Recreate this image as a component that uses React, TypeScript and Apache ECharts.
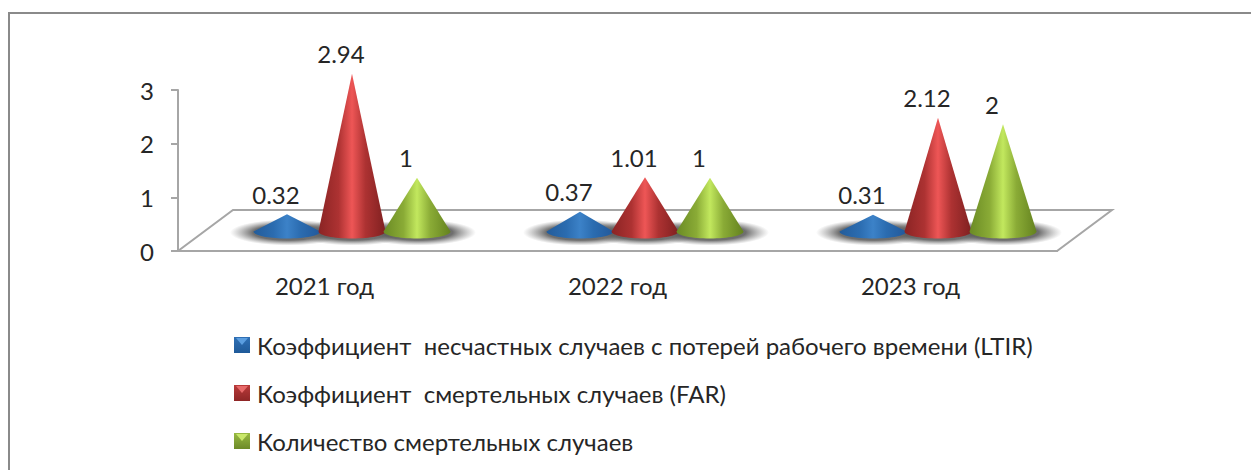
import React, { useEffect, useRef } from "react";
import * as echarts from "echarts";

const categories = ["2021 год", "2022 год", "2023 год"];
const seriesNames = [
  "Коэффициент  несчастных случаев с потерей рабочего времени (LTIR)",
  "Коэффициент  смертельных случаев (FAR)",
  "Количество смертельных случаев",
];
const ltir = [0.32, 0.37, 0.31];
const far = [2.94, 1.01, 2.12];
const fatalities = [1, 1, 2];

const FONT = 'Lato, "Open Sans", "Noto Sans", sans-serif';
const TEXT = "#262626";
const FONT_SIZE = 24;

// Floor depth of the pseudo-3D plot, in pixels
const DEPTH_X = 55;
const DEPTH_Y = 41;
// Spacing and footprint of the cones inside one category
const CONE_STEP = 65;
const BASE_RX = 33.5;
const BASE_RY = 7;
const FLOOR_LIFT = 19.5;
// Legend swatches
const LEGEND_LEFT = 234;
const LEGEND_TOP = 333;
const LEGEND_STEP = 48;
const SWATCH = 16;

echarts.graphic.registerShape(
  "cone",
  echarts.graphic.extendShape({
    shape: { cx: 0, cy: 0, rx: 0, ry: 0, top: 0 },
    buildPath(ctx: any, s: any) {
      const k = 0.5523;
      ctx.moveTo(s.cx, s.top);
      ctx.lineTo(s.cx + s.rx, s.cy);
      ctx.bezierCurveTo(
        s.cx + s.rx,
        s.cy + s.ry * k,
        s.cx + s.rx * k,
        s.cy + s.ry,
        s.cx,
        s.cy + s.ry
      );
      ctx.bezierCurveTo(
        s.cx - s.rx * k,
        s.cy + s.ry,
        s.cx - s.rx,
        s.cy + s.ry * k,
        s.cx - s.rx,
        s.cy
      );
      ctx.closePath();
    },
  })
);

const hGrad = (edge: string, mid: string, light: string, edge2: string) =>
  new echarts.graphic.LinearGradient(0, 0, 1, 0, [
    { offset: 0, color: edge },
    { offset: 0.3, color: mid },
    { offset: 0.5, color: light },
    { offset: 0.7, color: mid },
    { offset: 1, color: edge2 },
  ]);

const palettes = [
  {
    fill: () => hGrad("#235c9a", "#2b6cb0", "#3c82c8", "#22589a"),
    legend: ["#2f70b5", "#1f5a99"],
    bevel: "#5b9ee0",
  },
  {
    fill: () => hGrad("#8a2424", "#ad3232", "#ee5656", "#7f2020"),
    legend: ["#b93a3a", "#8e2626"],
    bevel: "#e86a6a",
  },
  {
    fill: () => hGrad("#6a8a24", "#8aab36", "#c2e85e", "#64821f"),
    legend: ["#98ba42", "#6d8a28"],
    bevel: "#c9e86a",
  },
];

const apexOf = (api: any, index: number) => {
  const top = api.coord([api.value(0), api.value(1)]);
  const floor = api.coord([api.value(0), 0]);
  return {
    cx: top[0] + DEPTH_X / 2 + (index - 1) * CONE_STEP,
    cy: floor[1] - FLOOR_LIFT,
    apex: top[1] - FLOOR_LIFT,
  };
};

// Soft contact shadow on the floor, kept in its own layer under every cone
const shadowSeries = (values: number[], index: number) => ({
  type: "custom",
  z: 2,
  clip: false,
  silent: true,
  data: values.map((v, i) => [i, v]),
  encode: { x: 0, y: 1 },
  renderItem(_: any, api: any) {
    const { cx, cy } = apexOf(api, index);
    return {
      type: "ellipse",
      shape: { cx: cx + 1, cy: cy + 1, rx: 58, ry: 13 },
      style: {
        fill: new echarts.graphic.RadialGradient(0.5, 0.5, 0.5, [
          { offset: 0, color: "rgba(85,85,85,0.95)" },
          { offset: 0.6, color: "rgba(95,95,95,0.9)" },
          { offset: 1, color: "rgba(130,130,130,0)" },
        ]),
      },
    };
  },
});

const coneSeries = (name: string, values: number[], index: number) => ({
  type: "custom",
  name,
  z: 3 + index,
  clip: false,
  data: values.map((v, i) => [i, v]),
  encode: { x: 0, y: 1 },
  itemStyle: {
    color: new echarts.graphic.LinearGradient(0, 0, 0, 1, [
      { offset: 0, color: palettes[index].legend[0] },
      { offset: 1, color: palettes[index].legend[1] },
    ]),
  },
  renderItem(_: any, api: any) {
    const { cx, cy, apex } = apexOf(api, index);
    return {
      type: "group",
      children: [
        {
          type: "cone",
          shape: { cx, cy, rx: BASE_RX, ry: BASE_RY, top: apex },
          style: { fill: palettes[index].fill() },
        },
        {
          type: "text",
          style: {
            text: String(api.value(1)),
            x: cx - 11,
            y: apex - 20,
            align: "center",
            verticalAlign: "middle",
            font: `${FONT_SIZE}px ${FONT}`,
            fill: TEXT,
          },
        },
      ],
    };
  },
});

// Lighter bevel along the top of each legend swatch
const swatchBevels = palettes.map((p, i) => {
  const top = LEGEND_TOP + 4 + i * LEGEND_STEP;
  return {
    type: "polygon",
    silent: true,
    z: 20,
    shape: {
      points: [
        [LEGEND_LEFT + 2, top + 1],
        [LEGEND_LEFT + SWATCH - 2, top + 1],
        [LEGEND_LEFT + SWATCH / 2, top + 8],
      ],
    },
    style: { fill: p.bevel },
  };
});

export default function App() {
  const ref = useRef<HTMLDivElement>(null);

  useEffect(() => {
    const chart = echarts.init(ref.current!, undefined, { renderer: "svg" });
    chart.setOption({
      animation: false,
      backgroundColor: "#ffffff",
      textStyle: { fontFamily: FONT },
      grid: { left: 178, right: 194, top: 90, bottom: 219 },
      xAxis: {
        type: "category",
        data: categories,
        axisTick: { show: false },
        axisLine: { show: true, lineStyle: { color: "#a6a6a6", width: 2 } },
        axisLabel: { color: TEXT, fontSize: FONT_SIZE, margin: 22, fontFamily: FONT },
        splitLine: { show: false },
      },
      yAxis: {
        type: "value",
        min: 0,
        max: 3,
        interval: 1,
        axisLine: { show: true, lineStyle: { color: "#a6a6a6", width: 2 } },
        axisTick: { show: true, length: 7, lineStyle: { color: "#a6a6a6", width: 2 } },
        axisLabel: { color: TEXT, fontSize: FONT_SIZE, margin: 24, fontFamily: FONT },
        splitLine: { show: false },
      },
      legend: {
        orient: "vertical",
        left: LEGEND_LEFT,
        top: LEGEND_TOP,
        padding: 0,
        height: 137,
        itemWidth: SWATCH,
        itemHeight: SWATCH,
        itemGap: LEGEND_STEP - FONT_SIZE,
        icon: "rect",
        selectedMode: false,
        data: seriesNames,
        textStyle: {
          color: TEXT,
          fontSize: FONT_SIZE,
          lineHeight: FONT_SIZE,
          fontFamily: FONT,
          padding: [0, 0, 0, 2],
        },
      },
      graphic: [
        {
          type: "polyline",
          silent: true,
          shape: { points: [[1251, 13], [9, 13], [9, 470]] },
          style: { fill: "none", stroke: "#8a8a8a", lineWidth: 2 },
        },
        ...swatchBevels,
      ],
      series: [
        {
          type: "custom",
          name: "floor",
          z: 1,
          clip: false,
          silent: true,
          data: [[0, 0]],
          encode: { x: 0, y: 1 },
          renderItem(params: any) {
            const g = params.coordSys;
            const front = g.y + g.height;
            return {
              type: "polygon",
              shape: {
                points: [
                  [g.x, front],
                  [g.x + g.width, front],
                  [g.x + g.width + DEPTH_X, front - DEPTH_Y],
                  [g.x + DEPTH_X, front - DEPTH_Y],
                ],
              },
              style: { fill: "#ffffff", stroke: "#a6a6a6", lineWidth: 2 },
            };
          },
        },
        shadowSeries(ltir, 0),
        shadowSeries(far, 1),
        shadowSeries(fatalities, 2),
        coneSeries(seriesNames[0], ltir, 0),
        coneSeries(seriesNames[1], far, 1),
        coneSeries(seriesNames[2], fatalities, 2),
      ],
    });
    return () => chart.dispose();
  }, []);

  return (
    <div
      ref={ref}
      style={{ position: "absolute", left: 0, top: 0, width: 1251, height: 470 }}
    />
  );
}
